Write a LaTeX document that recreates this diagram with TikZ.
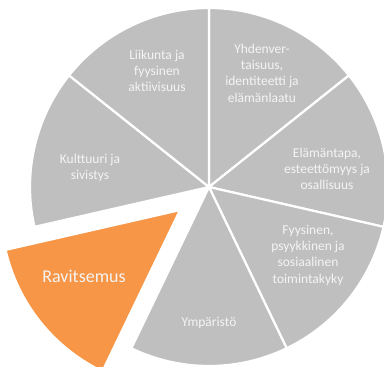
\documentclass[tikz,border=0pt]{standalone}
\usepackage{fontspec}
\setmainfont{Carlito}
\usepackage{tikz}

\definecolor{slicegray}{HTML}{BFBFBF}
\definecolor{sliceorange}{HTML}{F79646}
\definecolor{labelwhite}{HTML}{F4F4F4}

\tikzset{
  slice/.style={fill=slicegray, draw=white, line width=2.2pt, line join=round},
  hotslice/.style={fill=sliceorange, draw=white, line width=2.2pt, line join=round},
  lbl/.style={text=labelwhite, align=center, inner sep=0pt,
    font=\fontsize{13.5}{16.3}\selectfont},
  biglbl/.style={text=labelwhite, align=center, inner sep=0pt,
    font=\fontsize{18}{22}\selectfont}
}

\begin{document}
\begin{tikzpicture}[x=1pt, y=1pt]
  \useasboundingbox (0,0) rectangle (384,367);
  \clip (0,0) rectangle (384,367);
  \coordinate (c) at (209,180);

  % the six grey slices, clockwise from the top
  \path[slice] (c) -- ++(90:179) arc[start angle=90, end angle=38.57, radius=179] -- cycle;
  \path[slice] (c) -- ++(38.57:179) arc[start angle=38.57, end angle=-12.86, radius=179] -- cycle;
  \path[slice] (c) -- ++(-12.86:179) arc[start angle=-12.86, end angle=-64.29, radius=179] -- cycle;
  \path[slice] (c) -- ++(-64.29:179) arc[start angle=-64.29, end angle=-115.71, radius=179] -- cycle;
  \path[slice] (c) -- ++(-167.14:179) arc[start angle=192.86, end angle=141.43, radius=179] -- cycle;
  \path[slice] (c) -- ++(141.43:179) arc[start angle=141.43, end angle=90, radius=179] -- cycle;

  % pulled out slice
  \coordinate (cr) at ([shift={(-141.43:37)}]c);
  \path[hotslice] (cr) -- ++(-115.71:179) arc[start angle=-115.71, end angle=-167.14, radius=179] -- cycle;

  \node[lbl] (liikunta) at (157,296) {Liikunta ja\\fyysinen\\aktiivisuus};
  \node[lbl] (yhdenvert) at (262,294) {Yhdenver-\\taisuus,\\identiteetti ja\\elämänlaatu};
  \node[lbl] (elamantapa) at (327,198) {Elämäntapa,\\esteettömyys ja\\osallisuus};
  \node[lbl] (toimintakyky) at (308,112) {Fyysinen,\\psyykkinen ja\\sosiaalinen\\toimintakyky};
  \node[lbl] (ymparisto) at (209,44) {Ympäristö};
  \node[biglbl] (ravitsemus) at (84,91) {Ravitsemus};
  \node[lbl] (kulttuuri) at (90,199) {Kulttuuri ja\\sivistys};
\end{tikzpicture}
\end{document}
